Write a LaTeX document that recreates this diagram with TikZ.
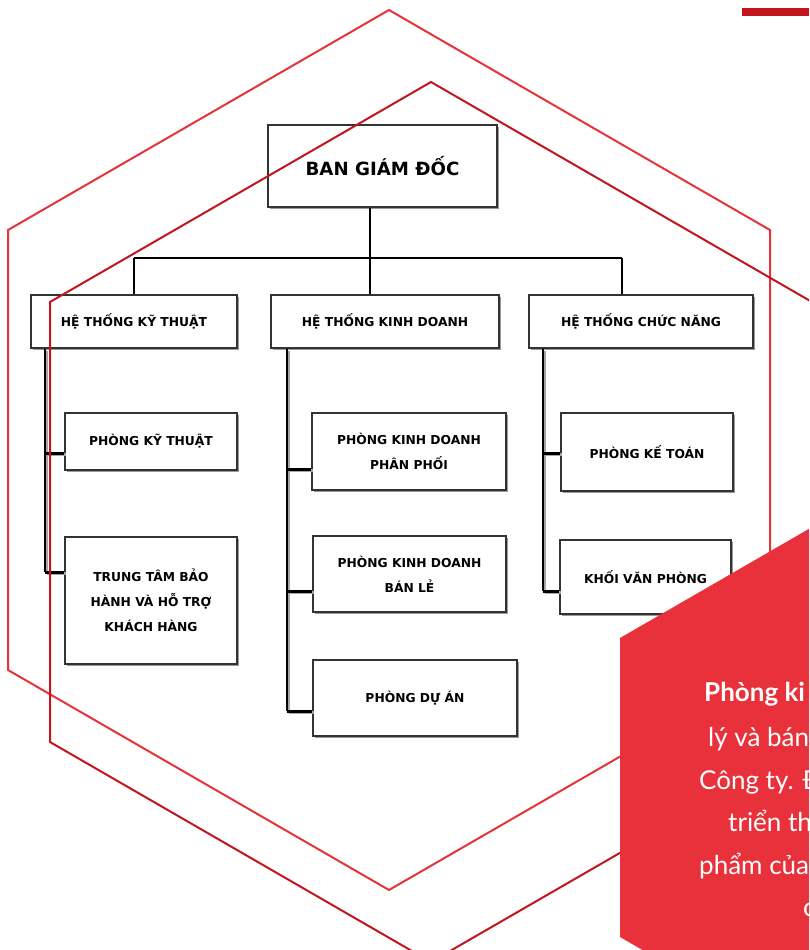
\documentclass[tikz,border=0pt]{standalone}
\usepackage{fontspec}
\setmainfont{DejaVu Sans}
\newfontfamily\latofont{Lato}
\usetikzlibrary{shadows}
\definecolor{hexlight}{HTML}{E6333A}
\definecolor{hexdark}{HTML}{C3151D}
\definecolor{panelred}{HTML}{E8313A}
\definecolor{boxline}{HTML}{333333}
\tikzset{
  orgbox/.style={draw=boxline, line width=2.6pt, fill=white, inner sep=0pt,
    align=center, font=\bfseries\fontsize{12.3}{25}\selectfont,
    drop shadow={shadow xshift=1.6pt, shadow yshift=-1.6pt, fill=black!40, opacity=1}},
  topbox/.style={orgbox, font=\bfseries\fontsize{18.2}{20}\selectfont},
  feed/.style={draw=black, line width=1.5pt},
  trunk/.style={draw=black, line width=2pt},
  tick/.style={draw=black, line width=3pt},
  trunkshade/.style={draw=black!35, line width=2pt},
  tickshade/.style={draw=black!35, line width=3pt},
  hexA/.style={draw=hexlight, line width=2pt, line join=miter},
  hexB/.style={draw=hexdark, line width=2pt, line join=miter},
  paneltext/.style={text=white, anchor=base west, inner sep=0pt,
    font=\latofont\fontsize{26}{30}\selectfont}
}
\begin{document}
\begin{tikzpicture}[x=1pt,y=-1pt]
\useasboundingbox (0,0) rectangle (809,950);
\begin{scope}
\clip (0,0) rectangle (809,950);

% boxes
\node[topbox, minimum width=229pt, minimum height=82pt] (bgd) at (382.5,166) {BAN GIÁM ĐỐC};
\node[orgbox, minimum width=206pt, minimum height=53pt] (htkt) at (134,321.5) {HỆ THỐNG KỸ THUẬT};
\node[orgbox, minimum width=228pt, minimum height=53pt] (htkd) at (385,321.5) {HỆ THỐNG KINH DOANH};
\node[orgbox, minimum width=224pt, minimum height=53pt] (htcn) at (641,321.5) {HỆ THỐNG CHỨC NĂNG};
\node[orgbox, minimum width=172pt, minimum height=57pt] (pkt) at (151,441.5) {PHÒNG KỸ THUẬT};
\node[orgbox, minimum width=172pt, minimum height=127pt] (ttbh) at (151,600.5) {TRUNG TÂM BẢO\\HÀNH VÀ HỖ TRỢ\\KHÁCH HÀNG};
\node[orgbox, minimum width=194pt, minimum height=77pt] (pkdpp) at (409,451.5) {PHÒNG KINH DOANH\\PHÂN PHỐI};
\node[orgbox, minimum width=193pt, minimum height=76pt] (pkdbl) at (409.5,574) {PHÒNG KINH DOANH\\BÁN LẺ};
\node[orgbox, minimum width=204pt, minimum height=76pt] (pda) at (415,698) {PHÒNG DỰ ÁN};
\node[orgbox, minimum width=172pt, minimum height=78pt] (pkto) at (647,452) {PHÒNG KẾ TOÁN};
\node[orgbox, minimum width=171pt, minimum height=74pt] (kvp) at (645.5,577) {KHỐI VĂN PHÒNG};

% junction coordinates
\coordinate (j0) at (370,258);
\coordinate (jl) at (134,258);
\coordinate (jr) at (622,258);
\coordinate (kL1) at (45,453);
\coordinate (kL2) at (45,572);
\coordinate (kM1) at (287,469);
\coordinate (kM2) at (287,591);
\coordinate (kM3) at (287,711);
\coordinate (kR1) at (543,453);
\coordinate (kR2) at (543,591);

% top connectors
\draw[feed] (bgd.south -| j0) -- (j0);
\draw[feed] (jl) -- (jr);
\draw[feed] (jl) -- (htkt.north -| jl);
\draw[feed] (j0) -- (htkd.north -| j0);
\draw[feed] (jr) -- (htcn.north -| jr);

% shaded trunks
\begin{scope}[transform canvas={shift={(1.8pt,-1.8pt)}}]
\draw[trunkshade] (htkt.south -| kL2) -- (kL2);
\draw[tickshade] (kL1) -- (kL1 -| pkt.west);
\draw[tickshade] (kL2) -- (kL2 -| ttbh.west);
\draw[trunkshade] (htkd.south -| kM3) -- (kM3);
\draw[tickshade] (kM1) -- (kM1 -| pkdpp.west);
\draw[tickshade] (kM2) -- (kM2 -| pkdbl.west);
\draw[tickshade] (kM3) -- (kM3 -| pda.west);
\draw[trunkshade] (htcn.south -| kR2) -- (kR2);
\draw[tickshade] (kR1) -- (kR1 -| pkto.west);
\draw[tickshade] (kR2) -- (kR2 -| kvp.west);
\end{scope}
\draw[trunk] (htkt.south -| kL2) -- (kL2);
\draw[tick] (kL1) -- (kL1 -| pkt.west);
\draw[tick] (kL2) -- (kL2 -| ttbh.west);
\draw[trunk] (htkd.south -| kM3) -- (kM3);
\draw[tick] (kM1) -- (kM1 -| pkdpp.west);
\draw[tick] (kM2) -- (kM2 -| pkdbl.west);
\draw[tick] (kM3) -- (kM3 -| pda.west);
\draw[trunk] (htcn.south -| kR2) -- (kR2);
\draw[tick] (kR1) -- (kR1 -| pkto.west);
\draw[tick] (kR2) -- (kR2 -| kvp.west);

% hexagon outlines
\draw[hexA] (389,10) -- (770,230) -- (770,670) -- (389,890) -- (8,670) -- (8,230) -- cycle;
\draw[hexB] (431,82) -- (812,302) -- (812,742) -- (431,962) -- (50,742) -- (50,302) -- cycle;

% red panel
\fill[panelred] (620,638) -- (900,476.3) -- (900,1000) -- (729,1000) -- (620,937) -- cycle;

% top bar
\fill[hexdark] (742,8) rectangle (809,16);

% panel text
\node[paneltext, font=\latofont\bfseries\fontsize{26}{30}\selectfont] (t1) at (704,701) {Phòng ki};
\node[paneltext] (t2) at (708,746) {lý và bán};
\node[paneltext] (t3) at (699,789) {Công ty. Đ};
\node[paneltext] (t4) at (728,831) {triển th};
\node[paneltext] (t5) at (699,874) {phẩm của};
\node[paneltext] (t6) at (803,916) {c};
\end{scope}
\end{tikzpicture}
\end{document}
